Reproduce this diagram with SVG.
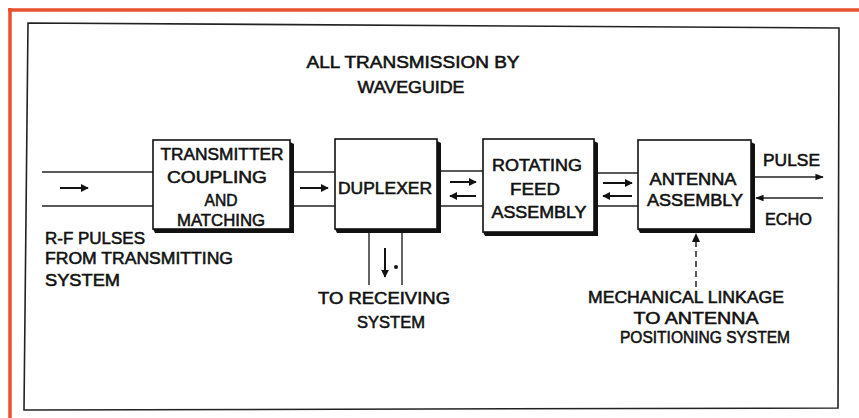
<svg xmlns="http://www.w3.org/2000/svg" width="859" height="418" viewBox="0 0 859 418">
<defs>
<style>
text{font-family:"Liberation Sans","DejaVu Sans",sans-serif;font-size:16.5px;font-weight:normal;fill:#111;stroke:#111;stroke-width:0.55px;}
.m{text-anchor:middle;}
.box{fill:#fff;stroke:#111;stroke-width:1.6;}
.sh{fill:#111;}
.wg{stroke:#222;stroke-width:1.4;fill:none;}
.ar{stroke:#111;stroke-width:2;fill:none;}
</style>
<marker id="ah" viewBox="0 0 10 10" refX="9" refY="5" markerWidth="4" markerHeight="4" orient="auto" markerUnits="strokeWidth">
<path d="M0,0 L10,5 L0,10 z" fill="#111"/>
</marker>
<marker id="ah2" viewBox="0 0 10 10" refX="9" refY="5" markerWidth="6" markerHeight="6" orient="auto" markerUnits="strokeWidth">
<path d="M0,1 L10,5 L0,9 z" fill="#111"/>
</marker>
</defs>
<rect width="859" height="418" fill="#fff"/>
<!-- red border -->
<line x1="8" y1="10" x2="859" y2="10" stroke="#e8502f" stroke-width="3.5"/>
<line x1="10" y1="8" x2="10" y2="418" stroke="#e8502f" stroke-width="3.5"/>
<!-- inner frame -->
<polygon points="28,23 839,28 838,408 24,410" fill="none" stroke="#222" stroke-width="1.6"/>

<g id="title">
<text class="m" x="413" y="68" textLength="213" lengthAdjust="spacingAndGlyphs">ALL TRANSMISSION BY</text>
<text class="m" x="411" y="93" textLength="107" lengthAdjust="spacingAndGlyphs">WAVEGUIDE</text>
</g>

<g id="connectors">
<!-- input waveguide -->
<line class="wg" x1="42" y1="172" x2="153" y2="172"/>
<line class="wg" x1="42" y1="206" x2="153" y2="206"/>
<line class="ar" x1="60" y1="188" x2="88" y2="188" marker-end="url(#ah)"/>
<!-- box1 to duplexer -->
<line class="wg" x1="294" y1="172" x2="335" y2="172"/>
<line class="wg" x1="294" y1="206" x2="335" y2="206"/>
<line class="ar" x1="300" y1="188" x2="328" y2="188" marker-end="url(#ah)"/>
<!-- duplexer to rotating -->
<line class="wg" x1="441" y1="171" x2="483" y2="171"/>
<line class="wg" x1="441" y1="206" x2="483" y2="206"/>
<line class="ar" x1="450" y1="182" x2="476" y2="182" marker-end="url(#ah)"/>
<line class="ar" x1="476" y1="196" x2="450" y2="196" marker-end="url(#ah)"/>
<!-- rotating to antenna -->
<line class="wg" x1="598" y1="173" x2="638" y2="173"/>
<line class="wg" x1="598" y1="206" x2="638" y2="206"/>
<line class="ar" x1="603" y1="183" x2="632" y2="183" marker-end="url(#ah)"/>
<line class="ar" x1="632" y1="196" x2="603" y2="196" marker-end="url(#ah)"/>
<!-- to receiving -->
<line class="wg" x1="369" y1="233" x2="369" y2="285"/>
<line class="wg" x1="402" y1="233" x2="402" y2="285"/>
<line class="ar" x1="385" y1="248" x2="385" y2="277" marker-end="url(#ah)"/>
<circle cx="396" cy="267" r="2" fill="#111"/>
<!-- pulse / echo -->
<line class="wg" x1="755" y1="177" x2="823" y2="177" marker-end="url(#ah2)"/>
<line class="wg" x1="823" y1="198" x2="756" y2="198" marker-end="url(#ah2)"/>
<!-- mechanical linkage -->
<line x1="696" y1="287" x2="696" y2="240" stroke="#222" stroke-width="1.5" stroke-dasharray="6,4"/>
<path d="M692,242 L696,233 L700,242 z" fill="#111"/>
</g>

<g id="transmitter">
<polygon class="sh" points="290,142 294,144 294,233 155,233 153,229 290,229"/>
<rect class="box" x="153" y="140" width="137" height="89"/>
<text class="m" x="222" y="160" textLength="123" lengthAdjust="spacingAndGlyphs">TRANSMITTER</text>
<text class="m" x="217" y="183" textLength="100" lengthAdjust="spacingAndGlyphs">COUPLING</text>
<text class="m" x="221" y="206" textLength="33" lengthAdjust="spacingAndGlyphs">AND</text>
<text class="m" x="221" y="226" textLength="88" lengthAdjust="spacingAndGlyphs">MATCHING</text>
</g>

<g id="duplexer">
<polygon class="sh" points="437,141 441,143 441,233 337,233 335,229 437,229"/>
<rect class="box" x="335" y="139" width="102" height="90"/>
<text class="m" x="385" y="194" textLength="94" lengthAdjust="spacingAndGlyphs">DUPLEXER</text>
</g>

<g id="rotating">
<polygon class="sh" points="594,141 598,143 598,236 485,236 483,232 594,232"/>
<rect class="box" x="483" y="139" width="111" height="93"/>
<text class="m" x="537" y="171" textLength="90" lengthAdjust="spacingAndGlyphs">ROTATING</text>
<text class="m" x="535" y="195" textLength="50" lengthAdjust="spacingAndGlyphs">FEED</text>
<text class="m" x="539" y="218" textLength="95" lengthAdjust="spacingAndGlyphs">ASSEMBLY</text>
</g>

<g id="antenna">
<polygon class="sh" points="751,142 755,144 755,233 640,233 638,229 751,229"/>
<rect class="box" x="638" y="140" width="113" height="89"/>
<text class="m" x="693" y="185" textLength="87" lengthAdjust="spacingAndGlyphs">ANTENNA</text>
<text class="m" x="695" y="206" textLength="96" lengthAdjust="spacingAndGlyphs">ASSEMBLY</text>
</g>

<g id="labels">
<text x="763" y="166" textLength="57" lengthAdjust="spacingAndGlyphs">PULSE</text>
<text x="765" y="225" textLength="47" lengthAdjust="spacingAndGlyphs">ECHO</text>
<text x="45" y="244" textLength="100" lengthAdjust="spacingAndGlyphs">R-F PULSES</text>
<text x="45" y="264" textLength="188" lengthAdjust="spacingAndGlyphs">FROM TRANSMITTING</text>
<text x="45" y="286" textLength="75" lengthAdjust="spacingAndGlyphs">SYSTEM</text>
<text class="m" x="384" y="304" textLength="132" lengthAdjust="spacingAndGlyphs">TO RECEIVING</text>
<text class="m" x="391" y="328" textLength="68" lengthAdjust="spacingAndGlyphs">SYSTEM</text>
<text class="m" x="686" y="303" textLength="196" lengthAdjust="spacingAndGlyphs">MECHANICAL LINKAGE</text>
<text class="m" x="696" y="324" textLength="125" lengthAdjust="spacingAndGlyphs">TO ANTENNA</text>
<text class="m" x="705" y="343" textLength="170" lengthAdjust="spacingAndGlyphs">POSITIONING SYSTEM</text>
</g>
</svg>
